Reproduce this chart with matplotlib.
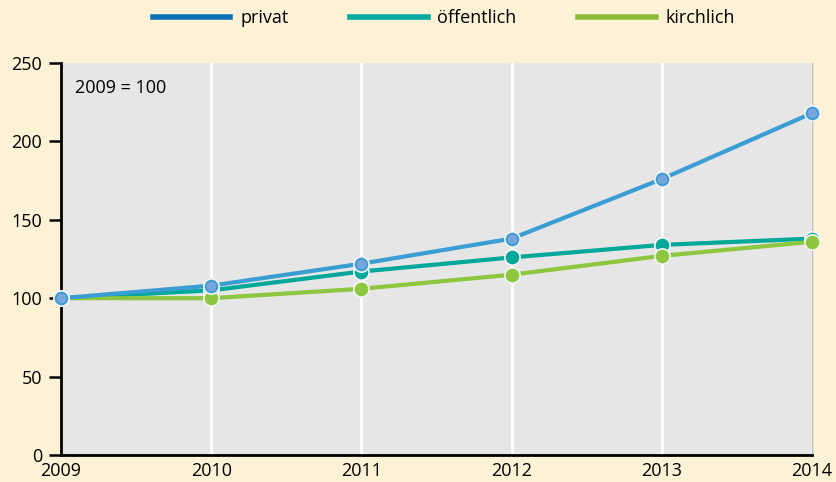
import numpy as np
import matplotlib.pyplot as plt
from matplotlib.lines import Line2D

years = [2009, 2010, 2011, 2012, 2013, 2014]
privat = [100, 108, 122, 138, 176, 218]
oeffentlich = [100, 105, 117, 126, 134, 138]
kirchlich = [100, 100, 106, 115, 127, 136]

plt.rcParams['font.family'] = ['Open Sans', 'DejaVu Sans']

bg = '#fef2d6'
fig = plt.figure(figsize=(8.36, 4.82), dpi=100, facecolor=bg)
ax = fig.add_axes([61 / 836, 27 / 482, 751 / 836, 392 / 482])
ax.set_facecolor('#e6e6e6')

# name, values, line colour, inner marker colour, legend colour, z-order
series = [
    ('privat', privat, '#3a9dd3', '#77a5dc', '#0b72ba', 3),
    ('öffentlich', oeffentlich, '#00a89a', None, '#00a99d', 1),
    ('kirchlich', kirchlich, '#8dc63f', None, '#8dbb3c', 2),
]
for name, vals, col, face, _, z in series:
    ax.plot(years, vals, color=col, lw=3, zorder=3 + z * 0.1, clip_on=False)
    ax.plot(years, vals, ls='none', marker='o', ms=11, mfc=col, mec='#f4f4f4',
            mew=1.2, zorder=4 + z, clip_on=False)
    if face:
        ax.plot(years, vals, ls='none', marker='o', ms=7, mfc=face, mec='none',
                zorder=4.5 + z, clip_on=False)

ax.set_xlim(2009, 2014)
ax.set_ylim(0, 250)
ax.set_yticks([0, 50, 100, 150, 200, 250])
ax.set_xticks(years)
for x in years[1:]:
    ax.axvline(x, color='white', lw=2, zorder=1)

ax.spines['top'].set_visible(False)
ax.spines['right'].set_color('#bbbbbb')
ax.spines['right'].set_linewidth(1)
ax.spines['left'].set_linewidth(2)
ax.spines['bottom'].set_linewidth(2)
ax.tick_params(axis='y', length=8.5, width=1.8, pad=5, labelsize=13)
ax.tick_params(axis='x', length=0, pad=5, labelsize=13)

ax.text(0.018, 0.958, '2009 = 100', transform=ax.transAxes, fontsize=13,
        va='top', ha='left')

handles = [Line2D([0], [0], color=s[4], lw=4) for s in series]
fig.legend(handles, [s[0] for s in series], loc='center',
           bbox_to_anchor=(0.531, 0.962), ncol=3, frameon=False, fontsize=13,
           handlelength=4.3, columnspacing=3.4, handletextpad=0.55)

fig.savefig('out.png', dpi=100, facecolor=bg)
